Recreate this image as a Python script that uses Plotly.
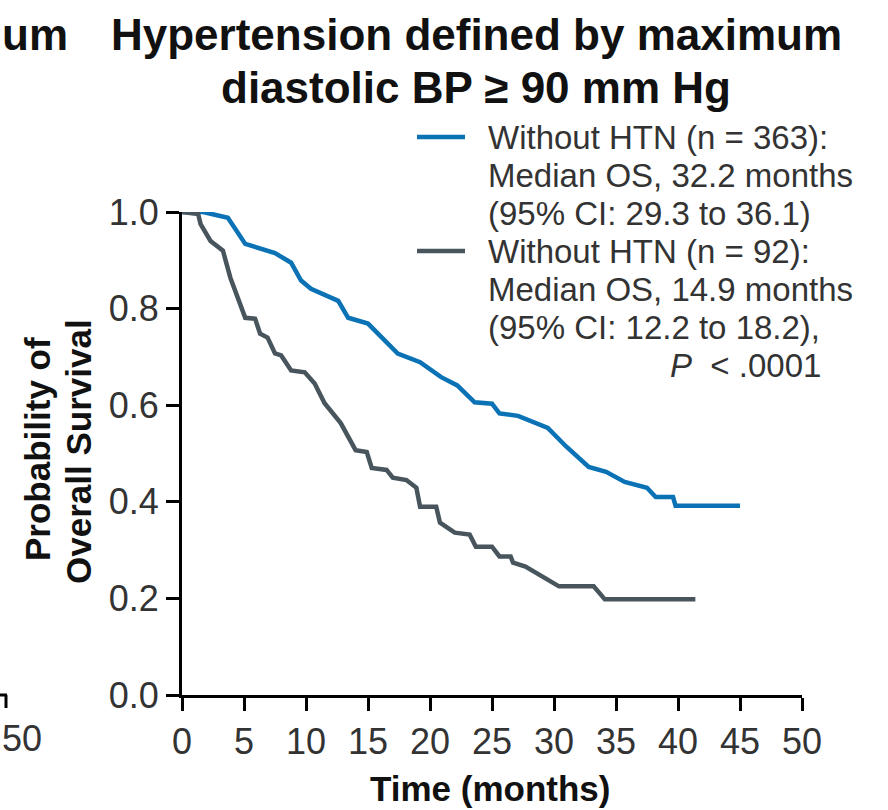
import plotly.graph_objects as go

# ---------------- data ----------------
months_no_htn = [0, 1.7, 3.7, 5.1, 7.5, 8.8, 9.6, 10.4, 12.6, 13.4, 15.0, 16.3, 17.4, 19.2,
                 20.9, 22.2, 23.6, 25.0, 25.6, 27.1, 29.5, 31.0, 32.8, 34.2, 35.7, 37.5,
                 38.2, 39.6, 39.8, 45.0]
surv_no_htn = [1.0, 1.0, 0.988, 0.934, 0.915, 0.895, 0.858, 0.841, 0.816, 0.781, 0.769, 0.734,
               0.707, 0.689, 0.658, 0.641, 0.606, 0.603, 0.583, 0.578, 0.553, 0.514, 0.472,
               0.462, 0.441, 0.429, 0.41, 0.41, 0.392, 0.392]

months_htn = [0, 1.3, 1.5, 2.3, 3.3, 3.9, 5.1, 5.9, 6.3, 6.9, 7.5, 8.0, 8.8, 9.9, 10.7, 11.5,
              12.8, 14.0, 14.9, 15.3, 16.5, 17.0, 18.1, 18.9, 19.2, 20.5, 20.8, 22.0, 23.2,
              23.7, 25.0, 25.6, 26.5, 26.7, 27.7, 30.4, 33.2, 34.1, 41.4]
surv_htn = [1.0, 0.996, 0.975, 0.94, 0.92, 0.864, 0.781, 0.779, 0.748, 0.74, 0.707, 0.703,
            0.672, 0.668, 0.645, 0.604, 0.563, 0.507, 0.503, 0.47, 0.466, 0.45, 0.445, 0.429,
            0.39, 0.39, 0.357, 0.336, 0.332, 0.307, 0.307, 0.287, 0.287, 0.274, 0.266, 0.225,
            0.225, 0.198, 0.198]

x_ticks = [0, 5, 10, 15, 20, 25, 30, 35, 40, 45, 50]
y_ticks = [0.0, 0.2, 0.4, 0.6, 0.8, 1.0]
y_tick_labels = ["0.0", "0.2", "0.4", "0.6", "0.8", "1.0"]

title_lines = ["Hypertension defined by maximum", "diastolic BP \u2265 90 mm Hg"]
legend_blue = ["Without HTN (n = 363):", "Median OS, 32.2 months", "(95% CI: 29.3 to 36.1)"]
legend_gray = ["Without HTN (n = 92):", "Median OS, 14.9 months", "(95% CI: 12.2 to 18.2),"]
p_text = "<i>P</i>  &lt; .0001"

BLUE = "#0a72b5"
GRAY = "#48555d"
TXT = "#333333"
FONT = "Liberation Sans, Arial, sans-serif"

# ---------------- layout geometry ----------------
W, H = 888, 810
L, R, T, B = 182, 86, 212, 115
PW = W - L - R
PH = H - T - B


def px(x):
    return (x - L) / PW


def py(y):
    return (H - B - y) / PH


fig = go.Figure()
fig.add_trace(go.Scatter(x=months_no_htn, y=surv_no_htn, mode="lines",
                         line=dict(color=BLUE, width=4.5), cliponaxis=False,
                         showlegend=False))
fig.add_trace(go.Scatter(x=months_htn, y=surv_htn, mode="lines",
                         line=dict(color=GRAY, width=4.5), cliponaxis=False,
                         showlegend=False))

axis_common = dict(showline=True, linewidth=3, linecolor="black", ticks="outside",
                   ticklen=13, tickwidth=3, tickcolor="black", showgrid=False,
                   zeroline=False, tickfont=dict(family=FONT, size=36, color=TXT))
fig.update_xaxes(range=[0, 50], tickvals=x_ticks, ticklabelstandoff=0, **axis_common)
fig.update_yaxes(range=[0, 1], tickvals=y_ticks, ticktext=y_tick_labels, **axis_common)

ann = []
# title
ann.append(dict(text="<b>" + title_lines[0] + "</b>", x=px(476), y=py(34)))
ann.append(dict(text="<b>" + title_lines[1] + "</b>", x=px(476), y=py(87)))
for a in ann:
    a.update(xref="paper", yref="paper", xanchor="center", yanchor="middle",
             showarrow=False, font=dict(family=FONT, size=44, color="#111111"))

# remnants of the neighbouring panel at the left edge
ann.append(dict(text="<b>um</b>", x=px(0), y=py(34), xref="paper", yref="paper",
                xanchor="left", yanchor="middle", showarrow=False,
                font=dict(family=FONT, size=44, color="#111111")))
ann.append(dict(text="50", x=px(0), y=py(738), xref="paper", yref="paper",
                xanchor="left", yanchor="middle", showarrow=False,
                font=dict(family=FONT, size=36, color=TXT)))

# legend text
legend_y = [137, 175, 213, 251, 289, 327]
for i, line in enumerate(legend_blue + legend_gray):
    ann.append(dict(text=line, x=px(486), y=py(legend_y[i]), xref="paper", yref="paper",
                    xanchor="left", yanchor="middle", showarrow=False,
                    font=dict(family=FONT, size=33, color=TXT)))
ann.append(dict(text=p_text, x=px(823), y=py(365), xref="paper", yref="paper",
                xanchor="right", yanchor="middle", showarrow=False,
                font=dict(family=FONT, size=33, color=TXT)))

# axis titles
ann.append(dict(text="<b>Time (months)</b>", x=px(490), y=py(788), xref="paper",
                yref="paper", xanchor="center", yanchor="middle", showarrow=False,
                font=dict(family=FONT, size=35, color="#111111")))
ann.append(dict(text="<b>Probability of</b>", x=px(37), y=py(449), xref="paper",
                yref="paper", xanchor="center", yanchor="middle", showarrow=False,
                textangle=-90, font=dict(family=FONT, size=35, color="#111111")))
ann.append(dict(text="<b>Overall Survival</b>", x=px(78), y=py(451), xref="paper",
                yref="paper", xanchor="center", yanchor="middle", showarrow=False,
                textangle=-90, font=dict(family=FONT, size=35, color="#111111")))

shapes = [
    dict(type="line", xref="paper", yref="paper", x0=px(417), x1=px(465),
         y0=py(137), y1=py(137), line=dict(color=BLUE, width=4.5)),
    dict(type="line", xref="paper", yref="paper", x0=px(417), x1=px(465),
         y0=py(251), y1=py(251), line=dict(color=GRAY, width=4.5)),
    # remnant of neighbouring panel axis
    dict(type="line", xref="paper", yref="paper", x0=px(-20), x1=px(7),
         y0=py(695), y1=py(695), line=dict(color="black", width=3)),
    dict(type="line", xref="paper", yref="paper", x0=px(6), x1=px(6),
         y0=py(695), y1=py(708), line=dict(color="black", width=3)),
]

fig.update_layout(width=W, height=H, margin=dict(l=L, r=R, t=T, b=B),
                  plot_bgcolor="white", paper_bgcolor="white",
                  annotations=ann, shapes=shapes, showlegend=False)

fig.write_html("out.html")
